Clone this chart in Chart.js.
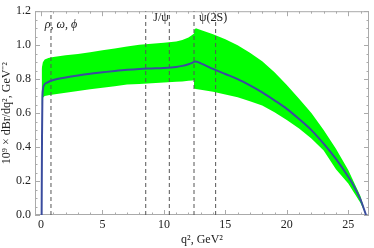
<!DOCTYPE html>
<html>
<head>
<meta charset="utf-8">
<script src="https://cdn.jsdelivr.net/npm/chart.js@4.4.0/dist/chart.umd.min.js"></script>
<style>
  html, body { margin: 0; padding: 0; background: #fff; }
</style>
</head>
<body>
<canvas id="chart" width="374" height="248"></canvas>
<script>
// central curve, q^2 in GeV^2, values in 10^9 x dBr/dq^2
const lineQ = [0.05, 0.08, 0.11, 0.15, 0.25, 0.5, 1, 2, 3, 4, 5, 6, 7, 8, 9, 10, 11, 11.5, 12, 12.3, 12.55, 13, 14, 15, 16, 17, 18, 19, 20, 21, 22, 23, 24, 25, 25.5, 26, 26.45];
const lineVal = [0.0, 0.45, 0.68, 0.735, 0.765, 0.78, 0.795, 0.81, 0.822, 0.832, 0.84, 0.848, 0.855, 0.86, 0.863, 0.866, 0.872, 0.878, 0.888, 0.896, 0.904, 0.893, 0.86, 0.83, 0.80, 0.763, 0.722, 0.675, 0.625, 0.565, 0.50, 0.42, 0.33, 0.225, 0.165, 0.09, 0.0];

// uncertainty band
const bandQ = [0.05, 0.15, 0.3, 0.6, 1, 2, 3, 4, 5, 6, 7, 8, 9, 10, 11, 11.5, 12, 12.3, 12.45, 12.46, 12.6, 13, 14, 15, 16, 17, 18, 19, 20, 21, 22, 23, 24, 25, 26, 26.45];
const bandHigh = [0.86, 0.90, 0.915, 0.925, 0.93, 0.94, 0.948, 0.958, 0.97, 0.98, 0.992, 1.002, 1.008, 1.014, 1.022, 1.03, 1.045, 1.06, 1.068, 1.09, 1.10, 1.09, 1.065, 1.035, 1.0, 0.955, 0.905, 0.84, 0.765, 0.685, 0.60, 0.50, 0.39, 0.265, 0.11, 0.0];
const bandLow = [0.64, 0.69, 0.70, 0.705, 0.71, 0.72, 0.73, 0.74, 0.75, 0.758, 0.768, 0.772, 0.776, 0.78, 0.784, 0.786, 0.79, 0.792, 0.793, 0.745, 0.742, 0.738, 0.725, 0.71, 0.693, 0.67, 0.645, 0.605, 0.56, 0.51, 0.45, 0.38, 0.27, 0.185, 0.07, 0.0];

// resonance veto lines
const vetoQ = [0.81, 8.52, 10.44, 12.45, 14.21];
const resonanceLabels = ['ρ, ω, ϕ', 'J/ψ', 'ψ(2S)'];
const resonanceQ = [0.3, 9.77, 14.0];

const xTicks = [0, 5, 10, 15, 20, 25];
const yTicks = [0, 0.2, 0.4, 0.6, 0.8, 1.0, 1.2];

const serif = '"Liberation Serif", "Times New Roman", serif';
const pts = (xs, ys) => xs.map((x, i) => ({ x, y: ys[i] }));

// frame with inward ticks, Mathematica style
const frameTicks = {
    id: 'frameTicks',
    beforeDatasetsDraw(chart) {
        const { ctx, chartArea: a, scales: { x, y } } = chart;
        ctx.save();
        ctx.strokeStyle = '#aaaaaa';
        ctx.lineWidth = 1;
        ctx.strokeRect(a.left + 0.5, a.top + 0.5, a.right - a.left - 1, a.bottom - a.top - 1);
        ctx.beginPath();
        for (let v = 0; v <= 26; v++) {
            const px = Math.round(x.getPixelForValue(v)) + 0.5;
            const len = v % 5 === 0 ? 5 : 2.5;
            ctx.moveTo(px, a.bottom); ctx.lineTo(px, a.bottom - len);
            ctx.moveTo(px, a.top); ctx.lineTo(px, a.top + len);
        }
        for (let k = 0; k <= 24; k++) {
            const v = k * 0.05;
            const py = Math.round(y.getPixelForValue(v)) + 0.5;
            const len = k % 4 === 0 ? 5 : 2.5;
            ctx.moveTo(a.left, py); ctx.lineTo(a.left + len, py);
            ctx.moveTo(a.right, py); ctx.lineTo(a.right - len, py);
        }
        ctx.stroke();
        ctx.restore();
    },
    afterDatasetsDraw(chart) {
        const { ctx, scales: { x } } = chart;
        ctx.save();
        ctx.fillStyle = '#222';
        ctx.textBaseline = 'middle';
        ctx.font = 'italic 12px ' + serif;
        ctx.textAlign = 'left';
        ctx.fillText(resonanceLabels[0], x.getPixelForValue(resonanceQ[0]), 25);
        ctx.font = '12px ' + serif;
        ctx.textAlign = 'center';
        ctx.fillText(resonanceLabels[1], x.getPixelForValue(resonanceQ[1]), 18);
        ctx.fillText(resonanceLabels[2], x.getPixelForValue(resonanceQ[2]), 18);
        ctx.restore();
    }
};

const datasets = [
    {
        label: 'central',
        data: pts(lineQ, lineVal),
        borderColor: '#3a4c9e',
        borderWidth: 2,
        pointRadius: 0,
        cubicInterpolationMode: 'monotone',
        fill: false,
        order: 0
    },
    ...vetoQ.map(q => ({
        label: 'veto',
        data: [{ x: q, y: 0 }, { x: q, y: 1.2 }],
        borderColor: '#555555',
        borderWidth: 1,
        borderDash: [4, 3],
        pointRadius: 0,
        fill: false,
        order: 1
    })),
    {
        label: 'high',
        data: pts(bandQ, bandHigh),
        borderWidth: 0,
        pointRadius: 0,
        backgroundColor: '#00ff00',
        fill: { target: '+1' },
        order: 2
    },
    {
        label: 'low',
        data: pts(bandQ, bandLow),
        borderWidth: 0,
        pointRadius: 0,
        fill: false,
        order: 2
    }
];

new Chart(document.getElementById('chart'), {
    type: 'line',
    data: { datasets },
    options: {
        responsive: false,
        animation: false,
        layout: { padding: { left: 0, right: 5, top: 5, bottom: 0 } },
        plugins: { legend: { display: false }, tooltip: { enabled: false } },
        scales: {
            x: {
                type: 'linear',
                min: -0.49,
                max: 26.69,
                grid: { display: false, drawTicks: false },
                border: { display: false },
                afterBuildTicks: s => { s.ticks = xTicks.map(v => ({ value: v })); },
                afterFit: s => { s.height = 33; },
                ticks: { padding: 3, maxRotation: 0, color: '#222', font: { family: serif, size: 12 }, callback: v => String(v) },
                title: { display: true, text: 'q², GeV²', color: '#222', font: { family: serif, size: 12 }, padding: { top: 0, bottom: 1 } }
            },
            y: {
                type: 'linear',
                min: 0,
                max: 1.2,
                grid: { display: false, drawTicks: false },
                border: { display: false },
                afterBuildTicks: s => { s.ticks = yTicks.map(v => ({ value: v })); },
                afterFit: s => { s.width = 35; },
                ticks: { padding: 4, color: '#222', font: { family: serif, size: 12 }, callback: v => Number(v).toFixed(1) },
                title: { display: true, text: '10⁹ × dBr/dq², GeV⁻²', color: '#222', font: { family: serif, size: 12 }, padding: { top: 0, bottom: 0 } }
            }
        }
    },
    plugins: [frameTicks]
});
</script>
</body>
</html>
